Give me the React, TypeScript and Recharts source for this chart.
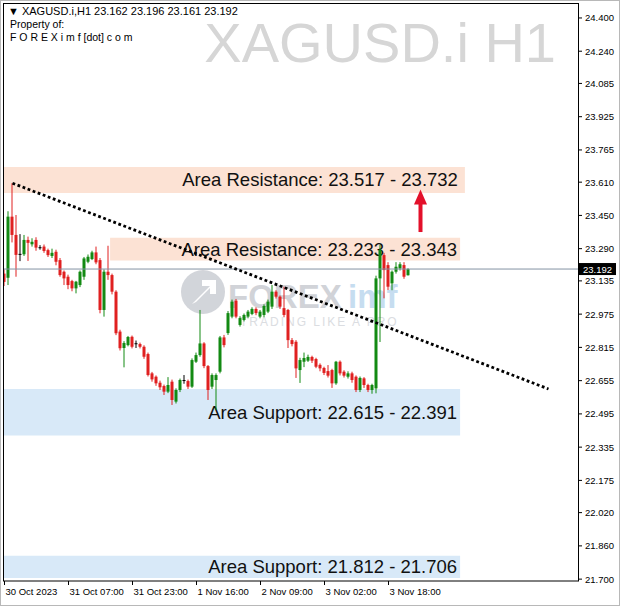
import React from 'react'
import { ComposedChart, Bar, XAxis, YAxis, ReferenceArea, ReferenceLine } from 'recharts'

// H1 candles (oldest first)
const opens = [
  23.17, 23.15, 23.444, 23.356, 23.265, 23.263, 23.332, 23.311, 23.332, 23.297,
  23.3, 23.283, 23.255, 23.275, 23.235, 23.179, 23.155, 23.134, 23.099, 23.115,
  23.155, 23.227, 23.24, 23.272, 23.235, 22.995, 23.179, 23.163, 23.083, 22.891,
  22.812, 22.826, 22.866, 22.835, 22.831, 22.818, 22.783, 22.69, 22.674, 22.645,
  22.629, 22.602, 22.65, 22.554, 22.61, 22.658, 22.653, 22.626, 22.746, 22.778,
  22.834, 22.725, 22.626, 22.658, 22.698, 22.863, 22.884, 22.963, 23.04, 22.923,
  22.947, 22.963, 22.976, 23.0, 22.963, 22.971, 22.987, 23.011, 23.083, 23.059,
  23.004, 22.995, 22.85, 22.842, 22.706, 22.746, 22.751, 22.769, 22.759, 22.731,
  22.716, 22.701, 22.706, 22.642, 22.746, 22.698, 22.674, 22.69, 22.674, 22.61,
  22.666, 22.634, 22.61, 22.618, 23.147, 23.259, 23.211, 23.123, 23.179, 23.195,
  23.211, 23.162,
]
const highs = [
  23.19, 23.47, 23.605, 23.452, 23.36, 23.356, 23.348, 23.34, 23.345, 23.307,
  23.31, 23.29, 23.29, 23.285, 23.245, 23.185, 23.165, 23.14, 23.135, 23.185,
  23.25, 23.262, 23.28, 23.3, 23.245, 23.19, 23.304, 23.17, 23.09, 22.9,
  22.845, 22.87, 22.872, 22.848, 22.838, 22.825, 22.79, 22.697, 22.68, 22.655,
  22.636, 22.672, 22.66, 22.618, 22.665, 22.682, 22.66, 22.762, 22.79, 22.995,
  22.84, 22.73, 22.69, 22.69, 22.87, 22.875, 22.99, 23.045, 23.048, 22.965,
  22.978, 22.995, 23.008, 23.008, 22.995, 23.022, 23.045, 23.115, 23.09, 23.065,
  23.107, 23.0, 22.86, 22.85, 22.765, 22.79, 22.78, 22.775, 22.765, 22.738,
  22.722, 22.73, 22.712, 22.75, 22.752, 22.705, 22.7, 22.698, 22.68, 22.675,
  22.672, 22.64, 22.64, 23.16, 23.308, 23.27, 23.225, 23.185, 23.225, 23.225,
  23.225, 23.196,
]
const lows = [
  23.11, 23.115, 23.32, 23.155, 23.23, 23.255, 23.231, 23.3, 23.28, 23.285,
  23.27, 23.25, 23.245, 23.21, 23.155, 23.115, 23.095, 23.085, 23.075, 23.105,
  23.14, 23.22, 23.235, 23.215, 22.979, 22.963, 23.14, 23.07, 22.874, 22.8,
  22.719, 22.82, 22.81, 22.812, 22.81, 22.76, 22.675, 22.65, 22.63, 22.61,
  22.586, 22.595, 22.538, 22.545, 22.6, 22.64, 22.615, 22.62, 22.74, 22.77,
  22.715, 22.562, 22.615, 22.514, 22.69, 22.815, 22.875, 22.955, 22.955, 22.915,
  22.94, 22.955, 22.97, 22.97, 22.955, 22.96, 22.98, 23.0, 23.05, 23.0,
  22.96, 22.812, 22.82, 22.668, 22.644, 22.72, 22.745, 22.74, 22.715, 22.7,
  22.682, 22.67, 22.62, 22.635, 22.68, 22.67, 22.665, 22.645, 22.6, 22.6,
  22.62, 22.6, 22.592, 22.594, 22.841, 23.051, 23.091, 23.09, 23.17, 23.185,
  23.145, 23.161,
]
const closes = [
  23.13, 23.444, 23.356, 23.26, 23.265, 23.332, 23.318, 23.323, 23.295, 23.297,
  23.279, 23.259, 23.27, 23.227, 23.163, 23.147, 23.115, 23.099, 23.131, 23.179,
  23.243, 23.251, 23.272, 23.224, 22.995, 23.179, 23.163, 23.083, 22.883, 22.811,
  22.836, 22.865, 22.818, 22.835, 22.818, 22.77, 22.682, 22.661, 22.642, 22.623,
  22.602, 22.634, 22.562, 22.61, 22.658, 22.658, 22.626, 22.754, 22.778, 22.834,
  22.725, 22.61, 22.682, 22.682, 22.863, 22.826, 22.98, 23.035, 22.963, 22.956,
  22.971, 22.987, 23.0, 22.98, 22.987, 23.014, 23.035, 23.083, 23.059, 23.011,
  22.971, 22.85, 22.831, 22.714, 22.754, 22.764, 22.769, 22.751, 22.722, 22.714,
  22.692, 22.679, 22.642, 22.746, 22.69, 22.679, 22.69, 22.658, 22.61, 22.668,
  22.634, 22.61, 22.634, 23.147, 23.284, 23.187, 23.107, 23.179, 23.203, 23.215,
  23.155, 23.192,
]

// time axis: bar index -> label
const timeTickIdx = [0, 16, 32, 48, 64, 80, 96]
const timeTickLabels = ['30 Oct 2023', '31 Oct 07:00', '31 Oct 23:00', '1 Nov 16:00', '2 Nov 09:00', '3 Nov 02:00', '3 Nov 18:00']

const priceTicks = [24.4, 24.24, 24.085, 23.925, 23.765, 23.61, 23.45, 23.29, 23.135, 22.975, 22.815, 22.655, 22.495, 22.335, 22.175, 22.02, 21.86, 21.7]
const lastPrice = 23.192

const zoneLabels = ['Area Resistance: 23.517 - 23.732', 'Area Resistance: 23.233 - 23.343', 'Area Support: 22.615 - 22.391', 'Area Support: 21.812 - 21.706']
const zoneLow = [23.558, 23.233, 22.391, 21.706]
const zoneHigh = [23.683, 23.343, 22.615, 21.812]
const zoneStart = [null, 26.4, null, null]
const zoneEnd = [115.1, 113.9, 113.9, 113.9]
const zoneKind = ['res', 'res', 'sup', 'sup']

const trendFrom = { x: 2, y: 23.605 }
const trendTo = { x: 136, y: 22.615 }
const arrowFrom = { x: 104, y: 23.37 }
const arrowTo = { x: 104, y: 23.575 }

const X_MIN = -0.375
const X_MAX = 143.375
const Y_MIN = 21.691
const Y_MAX = 24.472

const GREEN = '#138a13'
const RED = '#e02020'
const RES_FILL = '#fce2d4'
const SUP_FILL = '#d8e9f8'
const FONT = '"Liberation Sans", Arial, sans-serif'

const data = opens.map((o, i) => ({ i, o, h: highs[i], l: lows[i], c: closes[i] }))

const Candle = (props: any) => {
  const { x, y, width, height, payload } = props
  if (!payload) return null
  const { o, h, l, c } = payload
  const range = h - l || 1e-6
  const py = (v: number) => y + ((h - v) / range) * height
  const color = c > o ? GREEN : c < o ? RED : '#000'
  const cx = x + width / 2
  const top = py(Math.max(o, c))
  const bot = py(Math.min(o, c))
  return (
    <g>
      <line x1={cx} x2={cx} y1={y} y2={y + height} stroke={color} strokeWidth={1} />
      <rect x={x} y={top} width={width} height={Math.max(1, bot - top)} fill={color} />
    </g>
  )
}

const TimeTick = (props: any) => {
  const { x, y, payload } = props
  const idx = timeTickIdx.indexOf(payload.value)
  return (
    <text x={x + 1} y={y + 8} fontSize={9.5} fontFamily={FONT} fill="#000" textAnchor="start">
      {timeTickLabels[idx]}
    </text>
  )
}

const zoneLabel = (text: string, pad: number) => (p: any) => {
  const vb = p.viewBox
  if (!vb) return null
  return (
    <text x={vb.x + vb.width - pad} y={vb.y + vb.height / 2 + 6.5} textAnchor="end" fontSize={18.5} fontFamily={FONT} fill="#111">
      {text}
    </text>
  )
}

const PriceTag = (p: any) => {
  const vb = p.viewBox
  if (!vb) return null
  const x = vb.x + vb.width + 1
  return (
    <g>
      <rect x={x} y={vb.y - 6} width={37} height={12} fill="#000" />
      <text x={x + 4} y={vb.y + 4} fontSize={9.5} fontFamily={FONT} fill="#fff">{lastPrice.toFixed(3)}</text>
    </g>
  )
}

const Arrow = (p: any) => {
  const { x1, y1, x2, y2 } = p
  return (
    <g>
      <line x1={x1} y1={y1} x2={x2} y2={y2 + 12} stroke="#e3102a" strokeWidth={4} />
      <polygon points={`${x2 - 6.5},${y2 + 15} ${x2 + 6.5},${y2 + 15} ${x2},${y2}`} fill="#e3102a" />
    </g>
  )
}

export default function App() {
  return (
    <div style={{ position: 'absolute', left: 0, top: 0, width: 620, height: 606, background: '#fff', overflow: 'hidden', fontFamily: FONT }}>
      {/* background watermarks */}
      <svg width={620} height={606} style={{ position: 'absolute', left: 0, top: 0 }}>
        <text x={556} y={62} textAnchor="end" fontSize={56} fontFamily={FONT} fill="#d6d6d6">XAGUSD.i H1</text>
        <g opacity={0.75}>
          <circle cx={203} cy={292} r={22} fill="#c4c7ce" />
          <path d="M192 304 L210 286 L202 286 L202 280 L216 280 L216 294 L210 294 L210 288 L196 302 Z" fill="#fff" />
          <text x={228} y={308} fontSize={33} fontWeight="bold" fontFamily={FONT} fill="#c2c5cc">FOREX</text>
          <text x={348} y={308} fontSize={33} fontWeight="bold" fontFamily={FONT} fill="#b4d2ec">imf</text>
          <text x={240} y={326} fontSize={12} fontFamily={FONT} fill="#cfd2d7" letterSpacing={2}>TRADING LIKE A PRO</text>
        </g>
      </svg>

      <div style={{ position: 'absolute', left: 0, top: 0 }}>
        <ComposedChart width={620} height={606} data={data} margin={{ top: 3, right: 0, bottom: 0, left: 3 }}>
          <XAxis
            type="number"
            dataKey="i"
            domain={[X_MIN, X_MAX]}
            allowDataOverflow
            ticks={timeTickIdx}
            interval={0}
            height={25}
            axisLine={false}
            tickLine={{ stroke: '#000' }}
            tickSize={4}
            tick={<TimeTick />}
          />
          <YAxis
            orientation="right"
            type="number"
            domain={[Y_MIN, Y_MAX]}
            allowDataOverflow
            ticks={priceTicks}
            interval={0}
            width={42}
            axisLine={false}
            tickLine={{ stroke: '#000' }}
            tickSize={4}
            tickMargin={3}
            tickFormatter={(v: number) => v.toFixed(3)}
            tick={{ fontSize: 9.5, fill: '#000', fontFamily: FONT }}
          />
          {zoneLabels.map((t, k) => (
            <ReferenceArea
              key={t}
              x1={zoneStart[k] ?? X_MIN}
              x2={zoneEnd[k]}
              y1={zoneLow[k]}
              y2={zoneHigh[k]}
              fill={zoneKind[k] === 'res' ? RES_FILL : SUP_FILL}
              fillOpacity={1}
              stroke="none"
              ifOverflow="hidden"
            />
          ))}
          <ReferenceLine y={lastPrice} stroke="#8493a3" strokeWidth={1} label={<PriceTag />} />
          <Bar dataKey={(d: any) => [d.l, d.h]} barSize={3} shape={<Candle />} isAnimationActive={false} />
          {zoneLabels.map((t, k) => (
            <ReferenceArea
              key={t + 'lbl'}
              x1={zoneStart[k] ?? X_MIN}
              x2={zoneEnd[k]}
              y1={zoneLow[k]}
              y2={zoneHigh[k]}
              fill="none"
              stroke="none"
              ifOverflow="hidden"
              label={zoneLabel(t, k === 0 ? 7 : 3)}
            />
          ))}
          <ReferenceLine segment={[trendFrom, trendTo]} stroke="#000" strokeWidth={2.8} strokeDasharray="2.8 2.6" />
          <ReferenceLine segment={[arrowFrom, arrowTo]} shape={<Arrow />} />
        </ComposedChart>
      </div>

      {/* frame, plot border and header */}
      <svg width={620} height={606} style={{ position: 'absolute', left: 0, top: 0, pointerEvents: 'none' }}>
        <rect x={0.5} y={0.5} width={619} height={605} fill="none" stroke="#b8b8b8" />
        <rect x={3.5} y={3.5} width={575} height={577.5} fill="none" stroke="#000" />
        <text x={8} y={15} fontSize={11} fontFamily={FONT} fill="#000">▼ XAGUSD.i,H1  23.162 23.196 23.161 23.192</text>
        <text x={10} y={28} fontSize={10.5} fontFamily={FONT} fill="#000">Property of:</text>
        <text x={10} y={41} fontSize={10.5} fontFamily={FONT} fill="#000">F O R E X i m f [dot] c o m</text>
      </svg>
    </div>
  )
}
